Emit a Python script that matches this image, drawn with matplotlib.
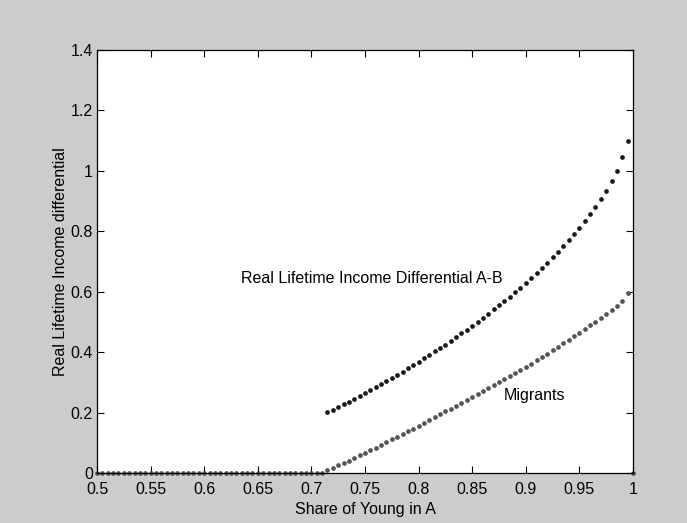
import numpy as np
import matplotlib
matplotlib.use("Agg")
import matplotlib.pyplot as plt

plt.rcParams['font.family'] = ['Liberation Sans', 'DejaVu Sans']

# Share of young in A (x) for the two dotted series
x_diff = np.round(np.arange(0.715, 0.9951, 0.005), 3)
x_migr = np.round(np.arange(0.5, 1.0001, 0.005), 3)

# Real lifetime income differential A-B
diff = [0.202, 0.210, 0.219, 0.228, 0.237, 0.246, 0.255, 0.265,
        0.275, 0.285, 0.295, 0.305, 0.315, 0.326, 0.336, 0.347, 0.358, 0.369,
        0.380, 0.391, 0.403, 0.414, 0.426, 0.438, 0.450, 0.463, 0.475, 0.488,
        0.501, 0.514, 0.528, 0.542, 0.556, 0.570, 0.584, 0.599, 0.614, 0.630,
        0.646, 0.662, 0.679, 0.696, 0.714, 0.733, 0.752, 0.772, 0.792, 0.812,
        0.834, 0.857, 0.881, 0.907, 0.935, 0.966, 1.001, 1.046, 1.098]

# Migrants (zero until ~0.71, last point at x=1 back to zero)
migrants = [0.0] * 43 + [
    0.010, 0.018, 0.026, 0.034, 0.042, 0.051, 0.059, 0.068,
    0.077, 0.085, 0.094, 0.103, 0.112, 0.121, 0.130, 0.139, 0.148, 0.157,
    0.167, 0.176, 0.186, 0.195, 0.205, 0.214, 0.224, 0.233, 0.243, 0.253,
    0.263, 0.272, 0.282, 0.292, 0.302, 0.312, 0.322, 0.332, 0.342, 0.352,
    0.363, 0.374, 0.385, 0.396, 0.407, 0.418, 0.430, 0.441, 0.453, 0.465,
    0.477, 0.489, 0.501, 0.514, 0.527, 0.540, 0.554, 0.570, 0.596, 0.0]

xticks = np.round(np.arange(0.5, 1.0001, 0.05), 2)
xtick_labels = ["0.5", "0.55", "0.6", "0.65", "0.7", "0.75", "0.8",
                "0.85", "0.9", "0.95", "1"]
yticks = np.round(np.arange(0, 1.4001, 0.2), 1)
ytick_labels = ["0", "0.2", "0.4", "0.6", "0.8", "1", "1.2", "1.4"]

fs = 11.5

fig = plt.figure(figsize=(6.87, 5.23), dpi=100, facecolor='#cccccc')
ax = fig.add_axes([0.1412, 0.0950, 0.7802, 0.8094])
ax.set_facecolor('white')

ax.plot(x_migr, migrants, linestyle='none', marker='o', markersize=3.4,
        markeredgewidth=0, color='#555555', clip_on=False)
ax.plot(x_diff, diff, linestyle='none', marker='o', markersize=3.4,
        markeredgewidth=0, color='#1a1a1a', clip_on=False)

ax.set_xlim(0.5, 1.0)
ax.set_ylim(0, 1.4)
ax.set_xticks(xticks)
ax.set_xticklabels(xtick_labels)
ax.set_yticks(yticks)
ax.set_yticklabels(ytick_labels)
ax.tick_params(direction='in', length=5, width=0.8, top=True, right=True,
               labelsize=fs, colors='black')
ax.tick_params(axis='x', pad=6)
ax.tick_params(axis='y', pad=3)
for sp in ax.spines.values():
    sp.set_linewidth(0.9)
    sp.set_color('black')

ax.set_xlabel("Share of Young in A", fontsize=fs, labelpad=4)
ax.set_ylabel("Real Lifetime Income differential", fontsize=fs, labelpad=2)

ax.text(0.634, 0.645, "Real Lifetime Income Differential A-B", fontsize=fs,
        va='center', ha='left')
ax.text(0.879, 0.259, "Migrants", fontsize=fs, va='center', ha='left')

fig.savefig("out.png", dpi=100, facecolor=fig.get_facecolor())
